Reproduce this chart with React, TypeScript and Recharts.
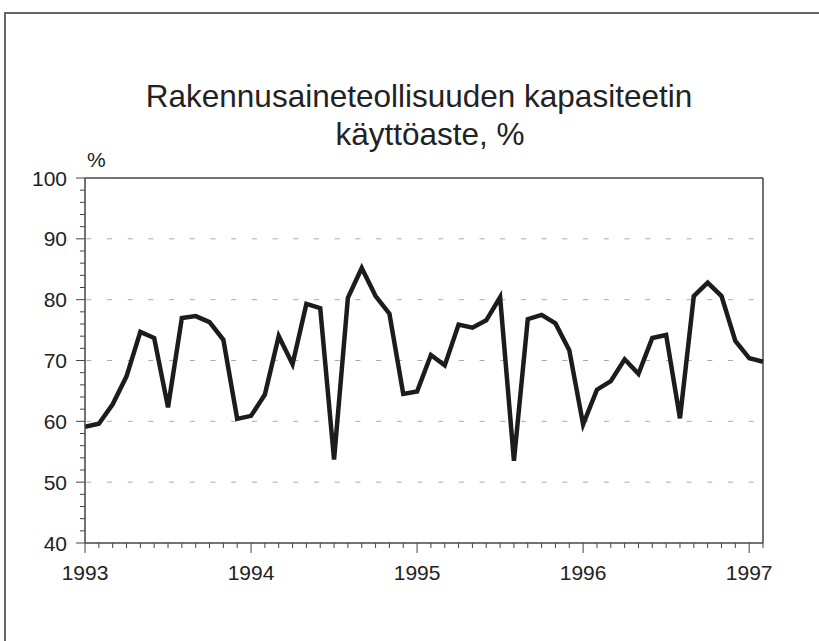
import React from 'react';
import { LineChart, Line, XAxis, YAxis, ReferenceLine } from 'recharts';

// monthly utilisation rate, Jan 1993 .. Feb 1997
const startYear = 1993;
const values = [
  59.1, 59.6, 62.8, 67.4, 74.7, 73.7, 62.3, 77.0, 77.3, 76.3, 73.4, 60.4,
  60.9, 64.4, 74.0, 69.4, 79.3, 78.6, 53.7, 80.3, 85.2, 80.6, 77.7, 64.5,
  64.9, 70.9, 69.2, 75.9, 75.4, 76.6, 80.4, 53.5, 76.8, 77.5, 76.1, 71.7,
  59.5, 65.2, 66.6, 70.2, 67.8, 73.7, 74.2, 60.5, 80.6, 82.8, 80.6, 73.2,
  70.4, 69.8,
];
const yTicks = [40, 50, 60, 70, 80, 90, 100];
const gridValues = [50, 60, 70, 80, 90];
const titleLines = ['Rakennusaineteollisuuden kapasiteetin', 'käyttöaste, %'];

const data = values.map((v, i) => ({ m: i, value: v }));
const lastIdx = values.length - 1;
const monthTicks = values.map((_, i) => i);
const yMinor: number[] = [];
for (let t = yTicks[0]; t <= yTicks[yTicks.length - 1]; t += 2) yMinor.push(t);

const font = '"Liberation Sans", Arial, sans-serif';
const axisColor = '#444';

const XTick = (props: any) => {
  const { x, y, payload } = props;
  const major = payload.value % 12 === 0;
  return (
    <g>
      <line x1={x} x2={x} y1={y} y2={y + (major ? 10 : 5)} stroke={axisColor} strokeWidth={1} />
      {major && (
        <text x={x} y={y + 37} textAnchor="middle" fontSize={21} fill="#222" fontFamily={font}>
          {startYear + payload.value / 12}
        </text>
      )}
    </g>
  );
};

const YTick = (props: any) => {
  const { x, y, payload } = props;
  const major = payload.value % 10 === 0;
  return (
    <g>
      <line x1={x - (major ? 9 : 5)} x2={x} y1={y} y2={y} stroke={axisColor} strokeWidth={1} />
      {major && (
        <text x={x - 18} y={y + 7.5} textAnchor="end" fontSize={21} fill="#222" fontFamily={font}>
          {payload.value}
        </text>
      )}
    </g>
  );
};

export default function App() {
  return (
    <div style={{ position: 'absolute', left: 0, top: 0, width: 819, height: 641, overflow: 'hidden', background: '#fff' }}>
      <LineChart
        width={819}
        height={641}
        data={data}
        margin={{ top: 178, right: 56, bottom: 58, left: 25 }}
        style={{ position: 'absolute', left: 0, top: 0 }}
      >
        <XAxis
          dataKey="m"
          type="number"
          domain={[0, lastIdx]}
          ticks={monthTicks}
          interval={0}
          height={40}
          tickSize={0}
          tickMargin={0}
          tickLine={false}
          tick={<XTick />}
          stroke={axisColor}
          strokeWidth={1.5}
        />
        <YAxis
          type="number"
          domain={[40, 100]}
          ticks={yMinor}
          interval={0}
          width={60}
          tickSize={0}
          tickMargin={0}
          tickLine={false}
          tick={<YTick />}
          stroke={axisColor}
          strokeWidth={1.5}
        />
        {gridValues.map((g) => (
          <ReferenceLine key={g} y={g} stroke="#aaa" strokeWidth={1} strokeDasharray="5 15.7" strokeDashoffset={19.4} />
        ))}
        <ReferenceLine y={100} stroke={axisColor} strokeWidth={1.5} />
        <ReferenceLine x={lastIdx} stroke={axisColor} strokeWidth={1.5} />
        <Line
          type="linear"
          dataKey="value"
          stroke="#1c1c1c"
          strokeWidth={4.5}
          dot={false}
          isAnimationActive={false}
        />
      </LineChart>
      <svg width={819} height={641} style={{ position: 'absolute', left: 0, top: 0, pointerEvents: 'none' }}>
        <path d="M5,641 V13 H819" fill="none" stroke="#666" strokeWidth={2} />
        <text x={419} y={107} textAnchor="middle" fontSize={31.5} fill="#222" fontFamily={font}>
          {titleLines[0]}
        </text>
        <text x={430} y={145} textAnchor="middle" fontSize={31.5} fill="#222" fontFamily={font}>
          {titleLines[1]}
        </text>
        <text x={87} y={167} fontSize={21} fill="#222" fontFamily={font}>
          %
        </text>
      </svg>
    </div>
  );
}
